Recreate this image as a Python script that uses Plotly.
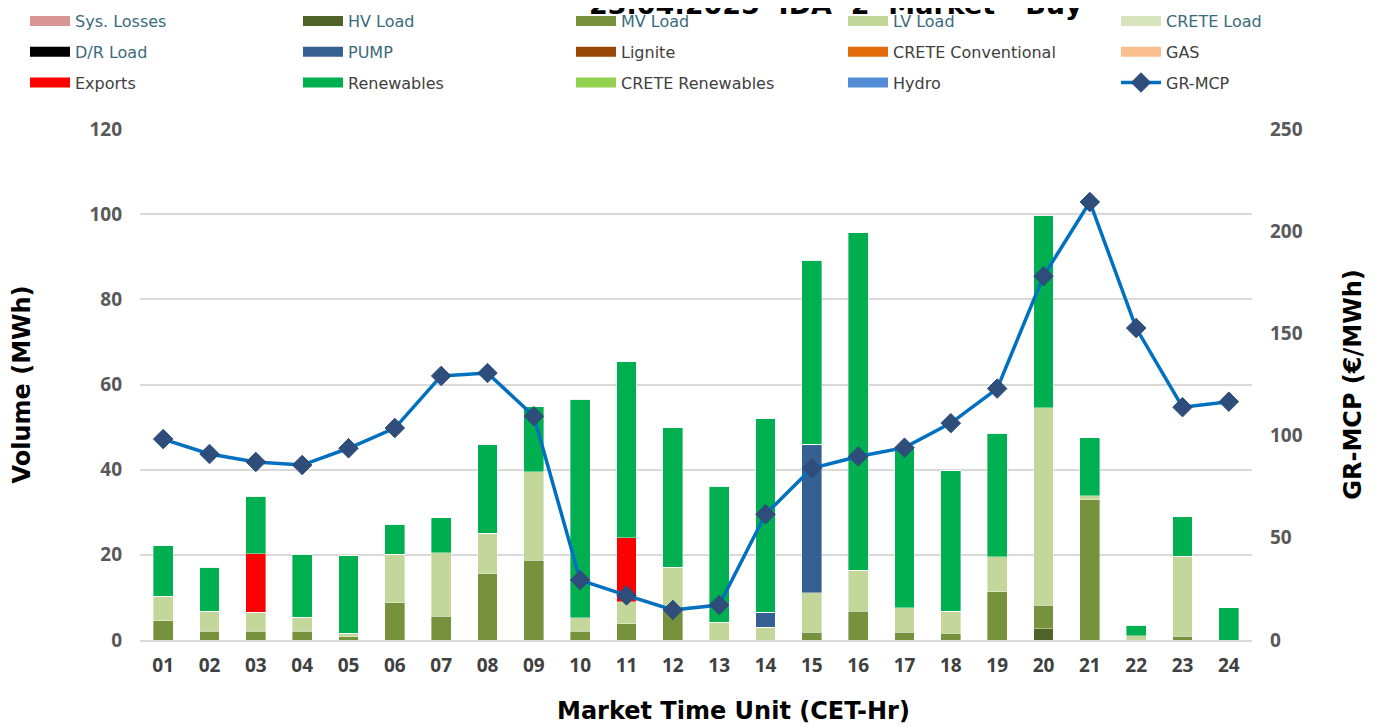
import plotly.graph_objects as go

hours = ["01", "02", "03", "04", "05", "06", "07", "08", "09", "10", "11", "12",
         "13", "14", "15", "16", "17", "18", "19", "20", "21", "22", "23", "24"]

sys_losses = [0, 0, 0, 0, 0, 0, 0, 0, 0, 0, 0, 0, 0, 0, 0, 0, 0, 0, 0, 0, 0, 0, 0, 0]
hv_load = [0, 0, 0, 0, 0, 0, 0, 0, 0, 0, 0, 0, 0, 0, 0, 0, 0, 0, 0, 2.7, 0, 0, 0, 0]
mv_load = [4.5, 2.0, 2.0, 2.0, 0.8, 8.8, 5.6, 15.6, 18.7, 2.0, 3.8, 7.0,
           0, 0, 1.8, 6.7, 1.8, 1.6, 11.3, 5.5, 32.9, 0, 0.9, 0]
lv_load = [5.8, 4.8, 4.5, 3.4, 0.8, 11.3, 14.9, 9.5, 20.8, 3.2, 5.2, 10.1,
           4.2, 3.0, 9.3, 9.7, 5.8, 5.2, 8.3, 46.4, 1.0, 1.0, 18.8, 0]
crete_load = [0, 0, 0, 0, 0, 0, 0, 0, 0, 0, 0, 0, 0, 0, 0, 0, 0, 0, 0, 0, 0, 0, 0, 0]
dr_load = [0, 0, 0, 0, 0, 0, 0, 0, 0, 0, 0, 0, 0, 0, 0, 0, 0, 0, 0, 0, 0, 0, 0, 0]
pump = [0, 0, 0, 0, 0, 0, 0, 0, 0, 0, 0, 0, 0, 3.5, 34.9, 0, 0, 0, 0, 0, 0, 0, 0, 0]
lignite = [0, 0, 0, 0, 0, 0, 0, 0, 0, 0, 0, 0, 0, 0, 0, 0, 0, 0, 0, 0, 0, 0, 0, 0]
crete_conv = [0, 0, 0, 0, 0, 0, 0, 0, 0, 0, 0, 0, 0, 0, 0, 0, 0, 0, 0, 0, 0, 0, 0, 0]
gas = [0, 0, 0, 0, 0, 0, 0, 0, 0, 0, 0, 0, 0, 0, 0, 0, 0, 0, 0, 0, 0, 0, 0, 0]
exports = [0, 0, 13.7, 0, 0, 0, 0, 0, 0, 0, 15.0, 0, 0, 0, 0, 0, 0, 0, 0, 0, 0, 0, 0, 0]
renewables = [11.8, 10.3, 13.5, 14.7, 18.2, 7.1, 8.2, 20.7, 15.3, 51.3, 41.3, 32.8,
              31.9, 45.5, 43.2, 79.2, 37.9, 33.0, 29.0, 45.2, 13.6, 2.5, 9.3, 7.6]
crete_ren = [0, 0, 0, 0, 0, 0, 0, 0, 0, 0, 0, 0, 0, 0, 0, 0, 0, 0, 0, 0, 0, 0, 0, 0]
hydro = [0, 0, 0, 0, 0, 0, 0, 0, 0, 0, 0, 0, 0, 0, 0, 0, 0, 0, 0, 0, 0, 0, 0, 0]
gr_mcp = [98.3, 91.0, 87.1, 85.6, 93.8, 103.7, 129.2, 130.6, 109.5, 29.3, 21.8, 14.7,
          17.1, 61.5, 84.0, 89.8, 94.1, 106.1, 123.0, 178.0, 214.3, 152.6, 113.9, 116.6]

TEAL = "#3A6B7C"
GRAY = "#404040"

# name, values, fill colour, legend text colour, legend column
bar_series = [
    ("Sys. Losses", sys_losses, "#DA9694", TEAL, "legend"),
    ("HV Load", hv_load, "#4F6228", TEAL, "legend2"),
    ("MV Load", mv_load, "#76923C", TEAL, "legend3"),
    ("LV Load", lv_load, "#C4D79B", TEAL, "legend4"),
    ("CRETE Load", crete_load, "#D8E4BC", TEAL, "legend5"),
    ("D/R Load", dr_load, "#000000", TEAL, "legend"),
    ("PUMP", pump, "#366092", TEAL, "legend2"),
    ("Lignite", lignite, "#974706", GRAY, "legend3"),
    ("CRETE Conventional", crete_conv, "#E26B0A", GRAY, "legend4"),
    ("GAS", gas, "#FABF8F", GRAY, "legend5"),
    ("Exports", exports, "#FF0000", GRAY, "legend"),
    ("Renewables", renewables, "#00B050", GRAY, "legend2"),
    ("CRETE Renewables", crete_ren, "#92D050", GRAY, "legend3"),
    ("Hydro", hydro, "#538DD5", GRAY, "legend4"),
]

FONT = "DejaVu Sans"
TICKFONT = "Open Sans"

fig = go.Figure()
# stacked bars (stack order = legend order)
for name, vals, color, tcolor, leg in bar_series:
    fig.add_trace(go.Bar(
        x=hours, y=vals, name=name, legendgroup=name, showlegend=False,
        marker=dict(color=color, line=dict(color="rgba(255,255,255,0.55)", width=0.7)),
        yaxis="y",
    ))

# legend entries for the bars (wide swatches, like the original legend)
for name, vals, color, tcolor, leg in bar_series:
    fig.add_trace(go.Scatter(
        x=[None], y=[None], mode="lines", legendgroup=name, legend=leg,
        name=f"<span style='color:{tcolor}'>{name}</span>",
        line=dict(color=color, width=10), hoverinfo="skip",
    ))

fig.add_trace(go.Scatter(
    x=hours, y=gr_mcp, name=f"<span style='color:{GRAY}'>GR-MCP</span>",
    legendgroup="GR-MCP", legend="legend5",
    mode="lines+markers", yaxis="y2",
    line=dict(color="#0070C0", width=3.5),
    marker=dict(symbol="diamond", size=15, color="#2E4D7B",
                line=dict(color="#2E4D7B", width=1)),
))

W, H = 1377, 727
OFF = 8  # default page margin in front of the figure
# plot area in page pixels
X0, X1, Y0, Y1 = 140, 1252, 129, 640
PL = X0 - OFF
PT = Y0 - OFF
PR = W - (X1 - OFF)
PB = H - (Y1 - OFF)


def px2x(px):
    return (px - X0) / (X1 - X0)


def px2y(py):
    return (Y1 - py) / (Y1 - Y0)


legend_common = dict(orientation="v", xanchor="left", yanchor="top",
                     itemwidth=40, tracegroupgap=7,
                     font=dict(family=FONT, size=16, color=GRAY),
                     bgcolor="rgba(0,0,0,0)", borderwidth=0)
col_px = [25, 298, 571, 843, 1116]
legends = {}
for i, key in enumerate(["legend", "legend2", "legend3", "legend4", "legend5"]):
    legends[key] = dict(x=px2x(col_px[i]), y=px2y(4), **legend_common)

fig.update_layout(
    width=W, height=H,
    barmode="stack", bargap=0.57,
    plot_bgcolor="white", paper_bgcolor="white",
    margin=dict(l=PL, r=PR, t=PT, b=PB, autoexpand=False),
    font=dict(family=FONT, color="#595959"),
    annotations=[
        dict(text="<b>23.04.2025  IDA  2  Market - Buy</b>",
             xref="paper", yref="paper", x=px2x(836), y=px2y(4),
             xanchor="center", yanchor="middle", showarrow=False,
             font=dict(family=FONT, size=27, color="#000000")),
        dict(text="<b>Market Time Unit (CET-Hr)</b>",
             xref="paper", yref="paper", x=px2x(733), y=px2y(711),
             xanchor="center", yanchor="middle", showarrow=False,
             font=dict(family=FONT, size=24, color="#000000")),
    ],
    xaxis=dict(type="category", range=[-0.5, 23.5],
               tickfont=dict(family=TICKFONT, size=19, color="#404040", weight="bold"),
               showline=True, linecolor="#D9D9D9", linewidth=2, ticks="",
               ticklabelstandoff=7),
    yaxis=dict(range=[0, 120], dtick=20, showgrid=True, gridcolor="#D9D9D9", gridwidth=1.5,
               zeroline=False, ticks="", ticklabelstandoff=17,
               tickfont=dict(family=TICKFONT, size=19, color="#595959", weight="bold"),
               title=dict(text="<b>Volume (MWh)</b>",
                          font=dict(family=FONT, size=24, color="#000000"), standoff=62)),
    yaxis2=dict(range=[0, 250], dtick=50, overlaying="y", side="right", showgrid=False,
                zeroline=False, ticks="", ticklabelstandoff=17,
                tickfont=dict(family=TICKFONT, size=19, color="#595959", weight="bold"),
                title=dict(text="<b>GR-MCP (€/MWh)</b>",
                           font=dict(family=FONT, size=24, color="#000000"), standoff=42)),
    **legends,
)

fig.write_html("out.html")
